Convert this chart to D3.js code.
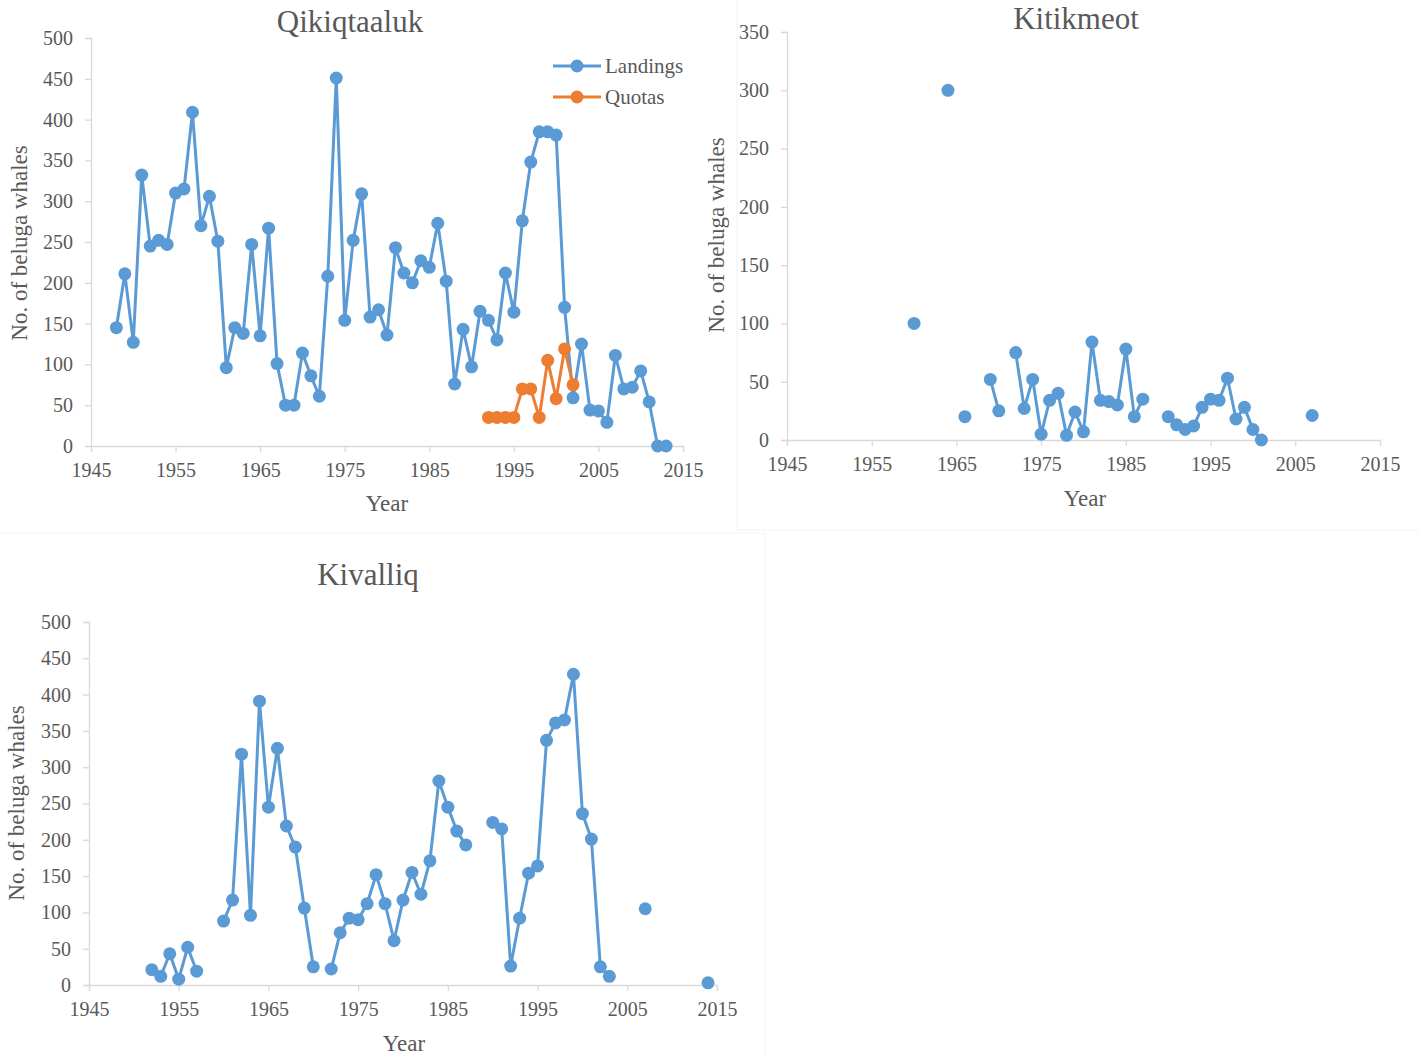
<!DOCTYPE html>
<html>
<head>
<meta charset="utf-8">
<script src="https://cdn.jsdelivr.net/npm/d3@7"></script>
<style>
  body { margin: 0; background: #fff; }
  svg text { font-family: "Liberation Serif", "Times New Roman", serif; fill: #595959; }
</style>
</head>
<body>
<svg id="chart" width="1419" height="1057"></svg>
<script>
const serif = '"Liberation Serif", "Times New Roman", serif'

// Qikiqtaaluk landings, 1948-2013
const qikYears = d3.range(1948, 2014)
const qikLandings = [145, 211, 127, 332, 245, 252, 247, 310, 315, 409,
    270, 306, 251, 96, 145, 138, 247, 135, 267, 101,
    50, 50, 114, 86, 61, 208, 451, 154, 252, 309,
    158, 167, 136, 243, 212, 200, 227, 219, 273, 202,
    76, 143, 97, 165, 154, 130, 212, 164, 276, 348,
    385, 385, 381, 170, 59, 125, 44, 43, 29, 111,
    70, 72, 92, 54, 0, 0]

// Qikiqtaaluk quotas, 1992-2002
const quotaYears = d3.range(1992, 2003)
const quotaValues = [35, 35, 35, 35, 70, 70, 35, 105, 58, 119, 75]

// Kitikmeot landings, 1960-2007 (null = no record)
const kitYears = d3.range(1960, 2008)
const kitLandings = [100, null, null, null, 300, null, 20, null, null, 52,
    25, null, 75, 27, 52, 5, 34, 40, 4, 24,
    7, 84, 34, 33, 30, 78, 20, 35, null, null,
    20, 13, 9, 12, 28, 35, 34, 53, 18, 28,
    9, 0, null, null, null, null, null, 21]

// Kivalliq landings, 1952-2014 (null = no record)
const kivYears = d3.range(1952, 2015)
const kivLandings = [21, 12, 43, 8, 52, 19, null, null, 88, 117,
    318, 96, 391, 245, 326, 219, 190, 106, 25, null,
    22, 72, 92, 90, 112, 152, 112, 61, 117, 155,
    125, 171, 281, 245, 212, 193, null, null, 224, 215,
    26, 92, 154, 164, 337, 361, 365, 428, 236, 201,
    25, 12, null, null, null, 105, null, null, null, null,
    null, null, 3]

const xTicks = [1945, 1955, 1965, 1975, 1985, 1995, 2005, 2015]

const blue = '#5b9bd5'
const orange = '#ed7d31'
const axisGrey = '#d9d9d9'

let svg = d3.select('#chart')

// faint frames of the pasted charts
svg.append('path')
    .attr('d', 'M737,0V530H1419')
    .attr('fill', 'none')
    .attr('stroke', '#f2f2f2')
svg.append('path')
    .attr('d', 'M0,533H765V1057')
    .attr('fill', 'none')
    .attr('stroke', '#f4f4f4')

let drawPanel = function (p) {
    let g = svg.append('g')

    let x = d3.scaleLinear().domain([1945, 2015]).range([p.left, p.right])
    let y = d3.scaleLinear().domain([0, p.yMax]).range([p.bottom, p.top])

    let yAxis = g.append('g')
        .attr('transform', `translate(${p.left},0)`)
        .call(d3.axisLeft(y).tickValues(d3.range(0, p.yMax + 1, 50)).tickSize(6).tickPadding(12))
    let xAxis = g.append('g')
        .attr('transform', `translate(0,${p.bottom})`)
        .call(d3.axisBottom(x).tickValues(xTicks).tickFormat(d3.format('d')).tickSize(6).tickPadding(11))

    ;[yAxis, xAxis].forEach(a => {
        a.attr('font-family', serif)
        a.selectAll('path, line').attr('stroke', axisGrey).attr('stroke-width', 1.3)
        a.selectAll('text')
            .style('font-family', serif)
            .style('font-size', '20px')
            .attr('fill', '#595959')
    })

    p.series.forEach(s => {
        let pts = s.years.map((d, i) => ({ year: d, value: s.values[i] }))
        g.append('path')
            .datum(pts)
            .attr('fill', 'none')
            .attr('stroke', s.color)
            .attr('stroke-width', 3)
            .attr('stroke-linejoin', 'round')
            .attr('d', d3.line()
                .defined(d => d.value !== null)
                .x(d => x(d.year))
                .y(d => y(d.value)))
        g.selectAll(null)
            .data(pts.filter(d => d.value !== null))
            .enter()
            .append('circle')
            .attr('cx', d => x(d.year))
            .attr('cy', d => y(d.value))
            .attr('r', 6.5)
            .attr('fill', s.color)
    })

    g.append('text')
        .attr('x', p.titleX)
        .attr('y', p.titleY)
        .attr('text-anchor', 'middle')
        .style('font-size', '31px')
        .text(p.title)

    g.append('text')
        .attr('x', p.yearX)
        .attr('y', p.yearY)
        .attr('text-anchor', 'middle')
        .style('font-size', '23px')
        .text('Year')

    g.append('text')
        .attr('transform', `translate(${p.ylabX},${p.ylabY}) rotate(-90)`)
        .attr('text-anchor', 'middle')
        .style('font-size', '23px')
        .text('No. of beluga whales')
}

drawPanel({
    title: 'Qikiqtaaluk', titleX: 350, titleY: 32,
    left: 91, right: 683, top: 38, bottom: 446, yMax: 500,
    yearX: 387, yearY: 511, ylabX: 27, ylabY: 243,
    series: [
        { years: qikYears, values: qikLandings, color: blue },
        { years: quotaYears, values: quotaValues, color: orange }
    ]
})

drawPanel({
    title: 'Kitikmeot', titleX: 1076, titleY: 29,
    left: 787, right: 1380, top: 32, bottom: 440, yMax: 350,
    yearX: 1085, yearY: 506, ylabX: 724, ylabY: 235,
    series: [{ years: kitYears, values: kitLandings, color: blue }]
})

drawPanel({
    title: 'Kivalliq', titleX: 368, titleY: 585,
    left: 89, right: 717, top: 622, bottom: 985, yMax: 500,
    yearX: 404, yearY: 1051, ylabX: 24, ylabY: 803,
    series: [{ years: kivYears, values: kivLandings, color: blue }]
})

// legend for the first panel
let legend = svg.append('g')
let legendItems = [{ name: 'Landings', color: blue }, { name: 'Quotas', color: orange }]
legendItems.forEach((d, i) => {
    let ly = 66 + i * 31
    legend.append('line')
        .attr('x1', 553).attr('x2', 601)
        .attr('y1', ly).attr('y2', ly)
        .attr('stroke', d.color)
        .attr('stroke-width', 3)
    legend.append('circle')
        .attr('cx', 577).attr('cy', ly)
        .attr('r', 6.5)
        .attr('fill', d.color)
    legend.append('text')
        .attr('x', 605)
        .attr('y', ly + 7)
        .style('font-size', '21px')
        .text(d.name)
})
</script>
</body>
</html>
